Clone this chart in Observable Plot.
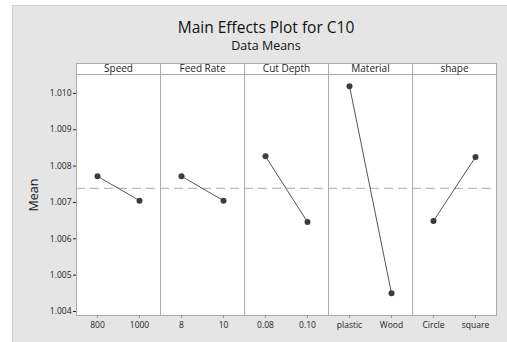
<!DOCTYPE html>
<html>
<head>
<meta charset="utf-8">
<script src="https://cdn.jsdelivr.net/npm/d3@7"></script>
<script src="https://cdn.jsdelivr.net/npm/@observablehq/plot@0.6"></script>
<style>
  html, body { margin: 0; padding: 0; background: #ffffff; }
  body { width: 507px; height: 342px; position: relative; overflow: hidden; font-family: "Open Sans", "Noto Sans", sans-serif; }
  #panel { position: absolute; left: 12px; top: 5px; width: 495px; height: 337px; background: #e5e5e5; border-top: 1px solid #cfcfcf; border-left: 1px solid #cfcfcf; box-sizing: border-box; }
  #title { position: absolute; left: 41px; width: 424px; top: 12px; text-align: center; font-size: 15.5px; color: #111; line-height: 18px; }
  #subtitle { position: absolute; left: 41px; width: 424px; top: 32px; text-align: center; font-size: 12.5px; color: #111; line-height: 15px; }
  #chart { position: absolute; left: 0px; top: 44px; }
  g[aria-label="y-axis label"] text { font-size: 12.5px; fill: #111; }
</style>
</head>
<body>
<div id="panel">
  <div id="title">Main Effects Plot for C10</div>
  <div id="subtitle">Data Means</div>
  <div id="chart"></div>
</div>
<script>
const factors = ["Speed", "Feed Rate", "Cut Depth", "Material", "shape"];
const levelLabels = [["800", "1000"], ["8", "10"], ["0.08", "0.10"], ["plastic", "Wood"], ["Circle", "square"]];
const levelMeans = [[1.00772, 1.00705], [1.00772, 1.00705], [1.00827, 1.00646], [1.0102, 1.0045], [1.00649, 1.00825]];
const grandMean = 1.00739;
const yTicks = [1.004, 1.005, 1.006, 1.007, 1.008, 1.009, 1.010];
const yDomain = [1.00389, 1.01052];

const rows = [];
factors.forEach((f, i) => {
  levelLabels[i].forEach((lab, j) => {
    rows.push({factor: f, pos: j, level: lab, mean: levelMeans[i][j]});
  });
});

const W = 494, H = 287;
const mTop = 24, mBottom = 22, mLeft = 61, mRight = 9;
const plotH = H - mTop - mBottom;

const chart = Plot.plot({
  width: W,
  height: H,
  marginTop: mTop,
  marginBottom: mBottom,
  marginLeft: mLeft,
  marginRight: mRight,
  style: {fontFamily: "'Open Sans', 'Noto Sans', sans-serif", fontSize: "8.5px", color: "#222", background: "transparent"},
  fx: {domain: factors, padding: 0, axis: null},
  x: {type: "point", domain: [0, 1], padding: 0.5, axis: null},
  y: {domain: yDomain, ticks: yTicks, tickFormat: d3.format(".3f"), tickSize: 3, tickPadding: 2, label: "Mean", labelAnchor: "center", labelArrow: "none", labelOffset: 47},
  marks: [
    Plot.frame({fill: "white", stroke: "#aaaaaa"}),
    Plot.frame({fill: "white", stroke: "#aaaaaa", insetTop: -11, insetBottom: plotH}),
    Plot.text(factors, {fx: d => d, text: d => d, frameAnchor: "top", lineAnchor: "middle", dy: -5.5, fontSize: 10, fill: "#222"}),
    Plot.ruleY([grandMean], {stroke: "#a8a8a8", strokeDasharray: "9,5", strokeWidth: 1}),
    Plot.line(rows, {fx: "factor", x: "pos", y: "mean", stroke: "#555", strokeWidth: 1}),
    Plot.dot(rows, {fx: "factor", x: "pos", y: "mean", r: 3, fill: "#3c3c3c", stroke: "none"}),
    Plot.ruleX(rows, {fx: "factor", x: "pos", y1: yDomain[0], y2: yDomain[0], insetBottom: -3, stroke: "#999"}),
    Plot.text(rows, {fx: "factor", x: "pos", text: "level", frameAnchor: "bottom", lineAnchor: "middle", dy: 10, fontSize: 8.5, fill: "#222"})
  ]
});
document.getElementById("chart").appendChild(chart);
</script>
</body>
</html>
